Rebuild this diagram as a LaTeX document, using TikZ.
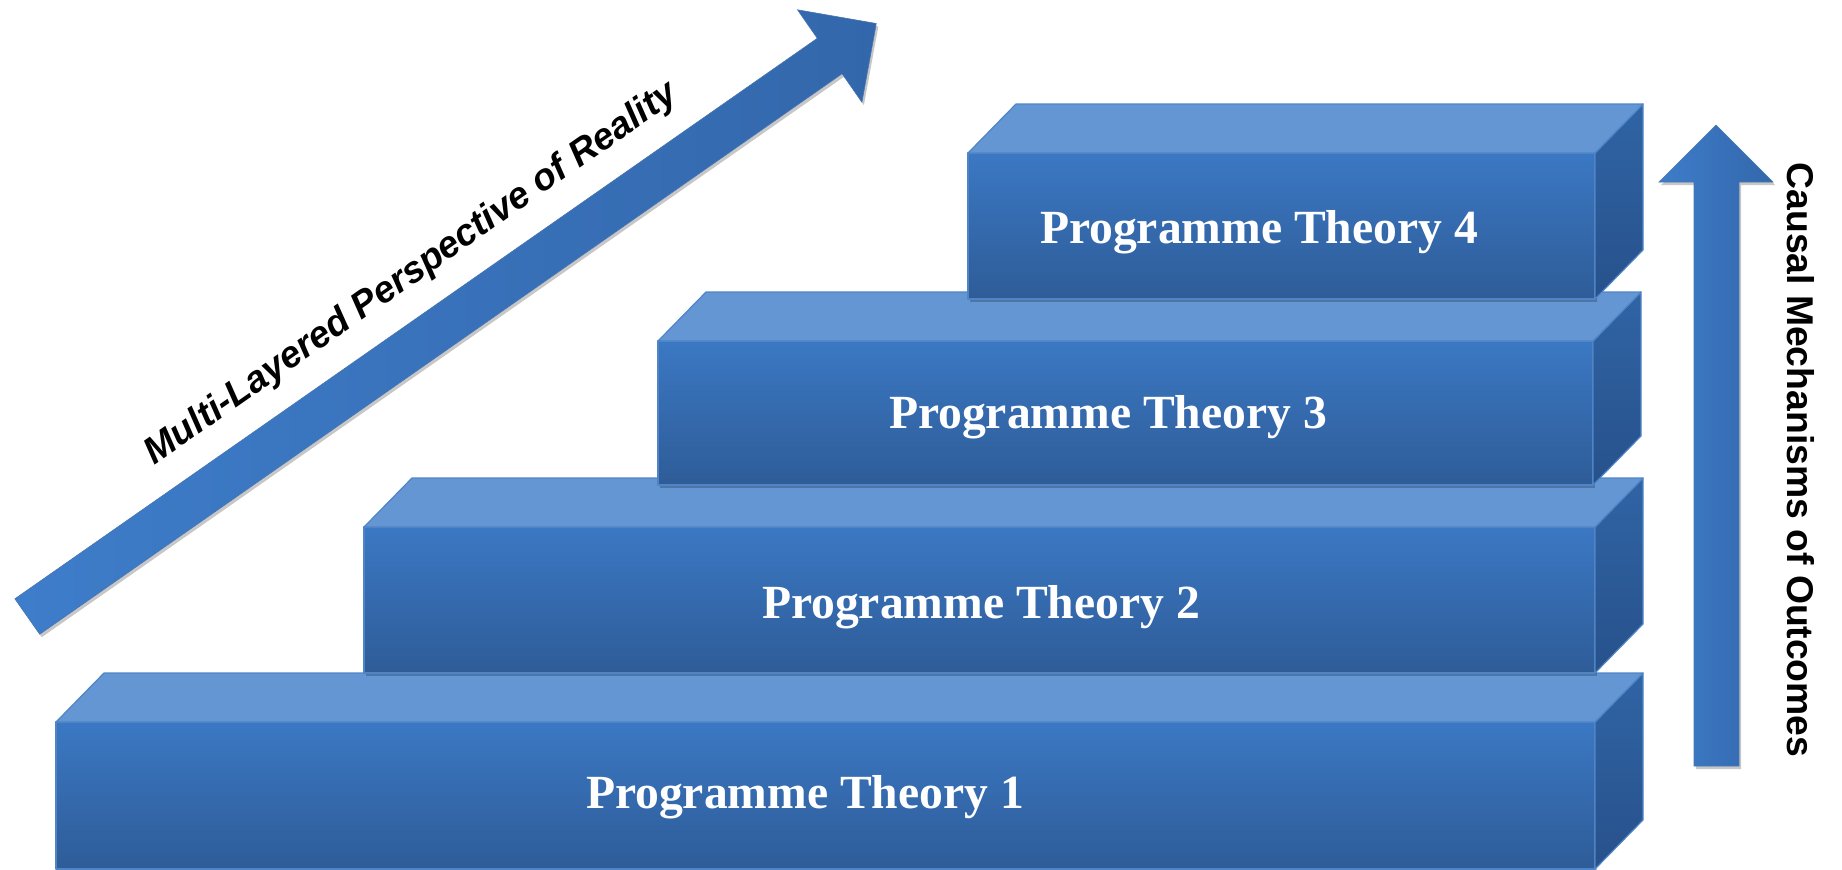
\documentclass[tikz,border=0pt]{standalone}
\usepackage{fontspec}
\setmainfont{Liberation Serif}
\newfontfamily\arialfont{Liberation Sans}
\usetikzlibrary{shadows}
\definecolor{frontTop}{HTML}{3B78C3}
\definecolor{frontBot}{HTML}{2E5C98}
\definecolor{topFace}{HTML}{6496D3}
\definecolor{sideTop}{HTML}{3064A5}
\definecolor{sideBot}{HTML}{27518B}
\definecolor{edgeC}{HTML}{4F85C6}
\definecolor{arrL}{HTML}{3E7DCA}
\definecolor{arrR}{HTML}{3367AB}
\tikzset{
  faceedge/.style={draw=edgeC,line width=1.2pt,line join=round},
  softshadow/.style={drop shadow={shadow xshift=2pt,shadow yshift=-3pt,opacity=0.22,fill=black}},
  ptlabel/.style={font=\fontsize{47.6}{50}\selectfont\bfseries,text=white,inner sep=0pt,anchor=base},
  sidelabel/.style={font=\arialfont\fontsize{37.3}{40}\selectfont\bfseries,text=black,inner sep=0pt,anchor=base},
  arrowbody/.style={left color=arrL,right color=arrR,draw=arrR!90!white,line width=0.6pt,line join=miter,softshadow}
}
\newcommand\drawblock[4]{%
  \path[softshadow,faceedge,top color=frontTop,bottom color=frontBot] (#1,#2) rectangle (#3,#4);
  \path[faceedge,top color=sideTop,bottom color=sideBot] (#3,#2) -- (#3+48,#2-49) -- (#3+48,#4-49) -- (#3,#4) -- cycle;
  \path[faceedge,fill=topFace] (#1,#2) -- (#1+48,#2-49) -- (#3+48,#2-49) -- (#3,#2) -- cycle;
}
\begin{document}
\begin{tikzpicture}[x=1pt,y=-1pt]
\useasboundingbox (0,0) rectangle (1842,870);
% diagonal arrow
\path[arrowbody] (14.9,598.8) -- (817.3,38.3) -- (797.5,9.8) -- (876.3,23.5) -- (861.9,102.2) -- (842.1,73.7) -- (39.7,634.2) -- cycle;
% blocks
\drawblock{56}{722}{1595}{869}
\drawblock{364}{527}{1595}{673}
\drawblock{658}{341}{1593}{485}
\drawblock{968}{153}{1595}{299}
% vertical arrow
\path[arrowbody] (1694,766) -- (1694,182) -- (1659,182) -- (1716,125) -- (1773,182) -- (1739,182) -- (1739,766) -- cycle;
% labels
\node[ptlabel] (pt1) at (805,808) {Programme Theory 1};
\node[ptlabel] (pt2) at (981,618) {Programme Theory 2};
\node[ptlabel] (pt3) at (1108,428) {Programme Theory 3};
\node[ptlabel] (pt4) at (1259,243) {Programme Theory 4};
\node[sidelabel,rotate=-90] (cm) at (1787,460) {Causal Mechanisms of Outcomes};
\node[sidelabel,font=\arialfont\fontsize{37.3}{40}\selectfont\bfseries\itshape,rotate=34.9] (mlp) at (417,282) {Multi-Layered Perspective of Reality};
\end{tikzpicture}
\end{document}
